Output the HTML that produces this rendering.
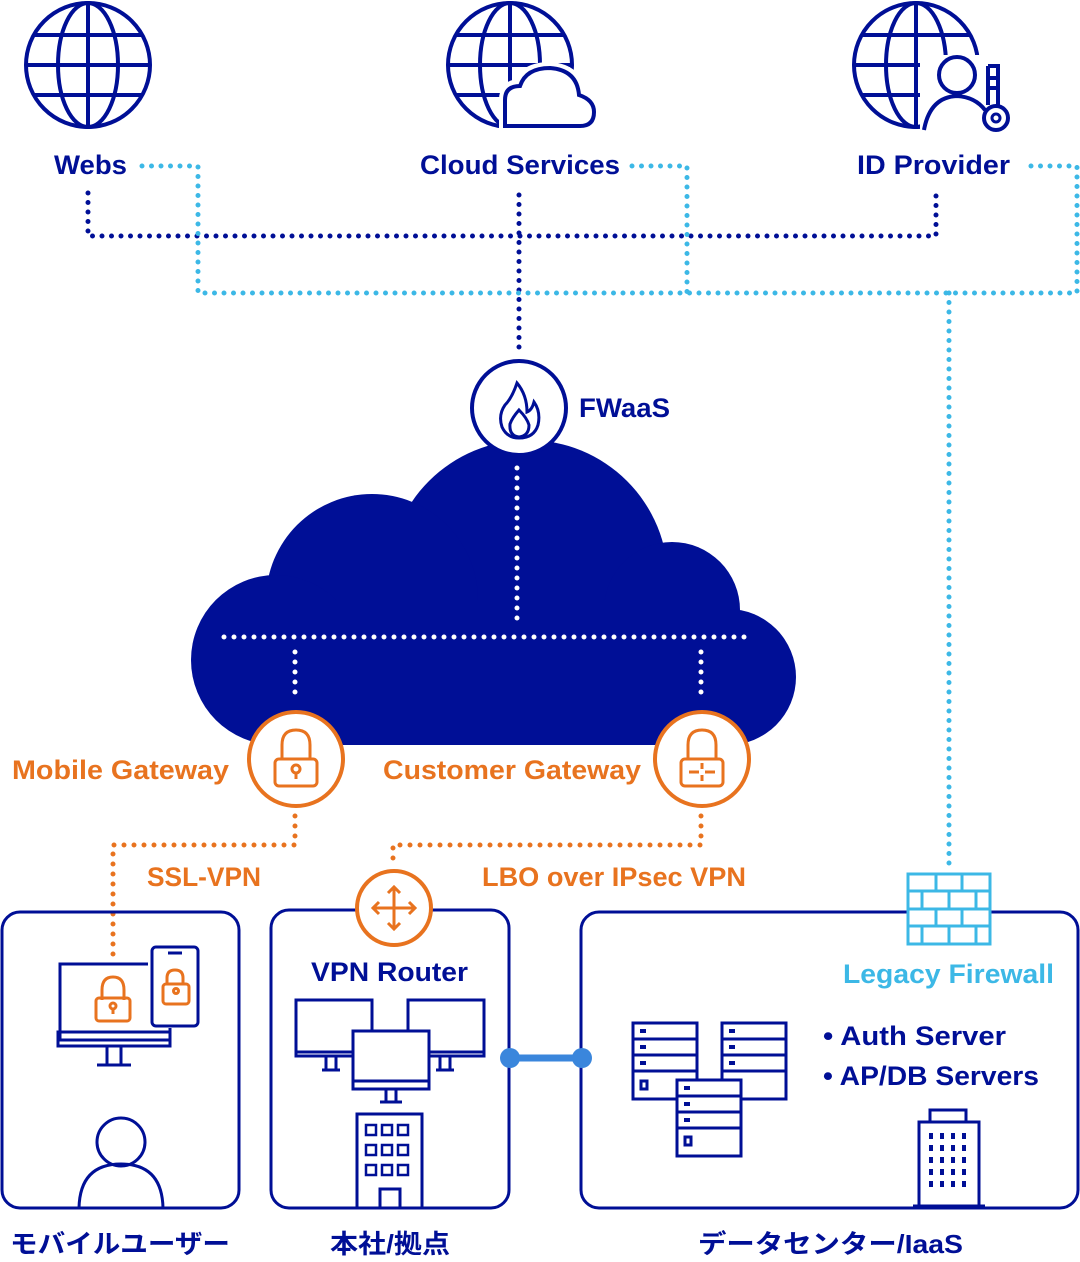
<!DOCTYPE html>
<html><head><meta charset="utf-8"><style>
html,body{margin:0;padding:0;background:#fff}
svg{display:block}
text{font-family:"Liberation Sans","Noto Sans CJK JP",sans-serif;font-weight:bold}
</style></head><body>
<svg width="1080" height="1262" viewBox="0 0 1080 1262" xmlns="http://www.w3.org/2000/svg">
<defs>
<g id="globe" fill="none" stroke="#000f96" stroke-width="4">
<circle cx="0" cy="0" r="62"/>
<ellipse cx="0" cy="0" rx="30" ry="62"/>
<line x1="0" y1="-62" x2="0" y2="62"/>
<line x1="-55" y1="-30" x2="55" y2="-30"/>
<line x1="-62" y1="0" x2="62" y2="0"/>
<line x1="-55" y1="30" x2="55" y2="30"/>
</g>
</defs>
<!-- globes -->
<use href="#globe" x="88" y="65"/>
<g>
<use href="#globe" x="510" y="65"/>
<path d="M505 128 L505 100 Q505 85 520 85 Q525 68 550 68 Q578 70 580 95 Q595 100 595 112 Q595 128 580 128 Z" fill="#fff" stroke="#fff" stroke-width="12"/>
<path d="M505 126 L505 100 Q505 86 520 86 Q526 68 550 68 Q577 70 579 95 Q594 100 594 112 Q594 126 580 126 Z" fill="#fff" stroke="#000f96" stroke-width="4"/>
</g>
<g>
<use href="#globe" x="916" y="65"/>
<rect x="920" y="55" width="90" height="80" fill="#fff"/>
<circle cx="957" cy="75" r="18" fill="#fff" stroke="#000f96" stroke-width="4"/>
<path d="M924 130 Q930 97 957 96 Q975 97 985 110" fill="none" stroke="#000f96" stroke-width="4"/>
<path d="M988 66 L998 66 L998 105" fill="none" stroke="#000f96" stroke-width="4"/>
<path d="M988 66 L988 105 M988 78 L996 78 M988 88 L996 88" fill="none" stroke="#000f96" stroke-width="4"/>
<circle cx="996" cy="118" r="12" fill="#fff" stroke="#000f96" stroke-width="4"/>
<circle cx="996" cy="118" r="4" fill="none" stroke="#000f96" stroke-width="3"/>
</g>
<!-- top labels -->
<text x="54" y="174" font-size="27" fill="#000f96" textLength="73" lengthAdjust="spacingAndGlyphs">Webs</text>
<text x="420" y="174" font-size="27" fill="#000f96" textLength="200" lengthAdjust="spacingAndGlyphs">Cloud Services</text>
<text x="857" y="174" font-size="27" fill="#000f96" textLength="153" lengthAdjust="spacingAndGlyphs">ID Provider</text>
<!-- dotted lines -->
<g fill="none" stroke-linecap="round" stroke-width="5" stroke-dasharray="0 9.5">
<path d="M88 193 V236 H936 V193" stroke="#000f96"/>
<path d="M519 195 V352" stroke="#000f96"/>
<path d="M142 166 H198 V293 H1077 V166 H1022" stroke="#3cb8e6"/>
<path d="M632 166 H687 V293" stroke="#3cb8e6"/>
<path d="M949 293 V870" stroke="#3cb8e6"/>
</g>
<!-- cloud -->
<g fill="#000f96">
<circle cx="528" cy="580" r="140"/>
<circle cx="372" cy="600" r="106"/>
<circle cx="276" cy="660" r="85"/>
<circle cx="672" cy="610" r="68"/>
<circle cx="728" cy="677" r="68"/>
<rect x="276" y="600" width="452" height="145"/>
</g>
<g fill="none" stroke="#fff" stroke-linecap="round" stroke-width="5" stroke-dasharray="0 10">
<path d="M517 468 V628"/>
<path d="M224 637 H746"/>
<path d="M295 652 V695"/>
<path d="M701 652 V695"/>
</g>
<!-- FWaaS -->
<circle cx="519" cy="408" r="47" fill="#fff" stroke="#000f96" stroke-width="4"/>
<path d="M517 383 Q512 398 505 405 Q498 415 502 427 Q507 438 519 438 Q534 438 538 425 Q541 412 534 402 Q532 410 527 412 Q527 395 517 383 Z" fill="none" stroke="#000f96" stroke-width="3"/>
<path d="M519 410 Q512 418 510 424 Q509 436 519 437 Q529 436 529 425 Q527 418 519 410 Z" fill="none" stroke="#000f96" stroke-width="3"/>
<text x="579" y="417" font-size="27" fill="#000f96" textLength="91" lengthAdjust="spacingAndGlyphs">FWaaS</text>
<!-- gateways -->
<g fill="#fff" stroke="#e8731f" stroke-width="4">
<circle cx="296" cy="759" r="47"/>
<circle cx="702" cy="759" r="47"/>
</g>
<g fill="none" stroke="#e8731f" stroke-width="3">
<path d="M282 760 V745 Q282 730 296 730 Q310 730 310 745 V760"/>
<rect x="275" y="759" width="42" height="27" rx="4"/>
<circle cx="296" cy="769" r="4"/><path d="M296 773 V779"/>
<path d="M688 760 V745 Q688 730 702 730 Q716 730 716 745 V760"/>
<rect x="681" y="759" width="42" height="27" rx="4"/>
<path d="M689 772 H699 M715 772 H705 M702 763 V769 M702 781 V775"/>
</g>
<text x="12" y="779" font-size="27" fill="#e8731f" textLength="217" lengthAdjust="spacingAndGlyphs">Mobile Gateway</text>
<text x="383" y="779" font-size="27" fill="#e8731f" textLength="258" lengthAdjust="spacingAndGlyphs">Customer Gateway</text>
<g fill="none" stroke="#e8731f" stroke-linecap="round" stroke-width="5" stroke-dasharray="0 10">
<path d="M295 816 V845 H113 V962"/>
<path d="M701 816 V845 H393 V866"/>
</g>
<text x="147" y="886" font-size="27" fill="#e8731f" textLength="114" lengthAdjust="spacingAndGlyphs">SSL-VPN</text>
<text x="482" y="886" font-size="27" fill="#e8731f" textLength="264" lengthAdjust="spacingAndGlyphs">LBO over IPsec VPN</text>
<!-- boxes -->
<g fill="none" stroke="#000f96" stroke-width="3">
<rect x="2" y="912" width="237" height="296" rx="18"/>
<rect x="271" y="910" width="238" height="298" rx="18"/>
<rect x="581" y="912" width="497" height="296" rx="18"/>
</g>
<!-- VPN router circle -->
<circle cx="394" cy="908" r="37" fill="#fff" stroke="#e8731f" stroke-width="4"/>
<g fill="none" stroke="#e8731f" stroke-width="3">
<path d="M394 887 V929 M373 908 H415 M388 893 L394 887 L400 893 M388 923 L394 929 L400 923 M379 902 L373 908 L379 914 M409 902 L415 908 L409 914"/>
</g>
<text x="311" y="981" font-size="27" fill="#000f96" textLength="157" lengthAdjust="spacingAndGlyphs">VPN Router</text>
<!-- mobile user icons -->
<g fill="none" stroke="#000f96" stroke-width="3">
<path d="M148 964 H60 V1040 H170 V1028"/>
<rect x="58" y="1032" width="112" height="14"/>
<path d="M107 1046 V1064 M121 1046 V1064 M97 1065 H131"/>
<rect x="152" y="947" width="46" height="79" rx="4"/>
<path d="M168 953 H182"/>
<circle cx="121" cy="1142" r="24"/>
<path d="M79 1208 Q80 1164 121 1164 Q162 1164 163 1208"/>
</g>
<g fill="none" stroke="#e8731f" stroke-width="3">
<path d="M102 1000 V990 Q102 977 113 977 Q124 977 124 990 V1000"/>
<rect x="96" y="998" width="34" height="23" rx="3"/>
<circle cx="113" cy="1006" r="3"/><path d="M113 1009 V1014"/>
<path d="M167 984 V978 Q167 970 175 970 Q183 970 183 978 V984"/>
<rect x="163" y="984" width="26" height="20" rx="3"/>
<circle cx="176" cy="991" r="2.5"/>
</g>
<!-- HQ icons -->
<g fill="none" stroke="#000f96" stroke-width="3">
<path d="M352 1052 H296 V1000 H372 V1030"/>
<path d="M296 1052 V1056 H352"/><path d="M326 1057 V1070 M336 1057 V1070 M322 1070 H340"/>
<path d="M408 1030 V1000 H484 V1052 H430"/><path d="M430 1056 H484 V1052"/>
<path d="M440 1057 V1070 M450 1057 V1070 M436 1070 H454"/>
<rect x="353" y="1031" width="76" height="58"/>
<path d="M353 1081 H429"/><path d="M386 1090 V1102 M396 1090 V1102 M380 1102 H402"/>
<rect x="357" y="1114" width="65" height="94"/>
<path d="M380 1208 V1189 H400 V1208"/>
</g>
<g fill="none" stroke="#000f96" stroke-width="2.5">
<rect x="366" y="1125" width="10" height="10"/><rect x="382" y="1125" width="10" height="10"/><rect x="398" y="1125" width="10" height="10"/>
<rect x="366" y="1145" width="10" height="10"/><rect x="382" y="1145" width="10" height="10"/><rect x="398" y="1145" width="10" height="10"/>
<rect x="366" y="1165" width="10" height="10"/><rect x="382" y="1165" width="10" height="10"/><rect x="398" y="1165" width="10" height="10"/>
</g>
<!-- connector -->
<line x1="510" y1="1058" x2="582" y2="1058" stroke="#3a86dc" stroke-width="7"/>
<circle cx="510" cy="1058" r="10" fill="#3a86dc"/>
<circle cx="582" cy="1058" r="10" fill="#3a86dc"/>
<!-- firewall -->
<g fill="#fff" stroke="#3cb8e6" stroke-width="3">
<rect x="908" y="874" width="82" height="70"/>
<path d="M908 891 H990 M908 909 H990 M908 926 H990 M936 874 V891 M962 874 V891 M922 891 V909 M949 891 V909 M976 891 V909 M936 909 V926 M962 909 V926 M922 926 V944 M949 926 V944 M976 926 V944"/>
</g>
<text x="843" y="983" font-size="27" fill="#3cb8e6" textLength="211" lengthAdjust="spacingAndGlyphs">Legacy Firewall</text>
<text x="823" y="1045" font-size="27" fill="#000f96" textLength="183" lengthAdjust="spacingAndGlyphs">• Auth Server</text>
<text x="823" y="1085" font-size="27" fill="#000f96" textLength="216" lengthAdjust="spacingAndGlyphs">• AP/DB Servers</text>
<!-- servers -->
<g fill="#fff" stroke="#000f96" stroke-width="3">
<rect x="633" y="1023" width="64" height="76"/>
<rect x="722" y="1023" width="64" height="76"/>
<path d="M633 1039 H697 M633 1055 H697 M633 1071 H697 M722 1039 H786 M722 1055 H786 M722 1071 H786"/>
<rect x="677" y="1080" width="64" height="76"/>
<path d="M677 1096 H741 M677 1112 H741 M677 1128 H741"/>
<rect x="641" y="1081" width="6" height="8"/><rect x="685" y="1137" width="6" height="8"/>
</g>
<g fill="#000f96">
<rect x="640" y="1029" width="6" height="4"/><rect x="640" y="1045" width="6" height="4"/><rect x="640" y="1061" width="6" height="4"/>
<rect x="729" y="1029" width="6" height="4"/><rect x="729" y="1045" width="6" height="4"/><rect x="729" y="1061" width="6" height="4"/>
<rect x="684" y="1086" width="6" height="4"/><rect x="684" y="1102" width="6" height="4"/><rect x="684" y="1118" width="6" height="4"/>
</g>
<!-- DC building -->
<g fill="none" stroke="#000f96" stroke-width="3">
<rect x="930" y="1110" width="36" height="12"/>
<rect x="919" y="1122" width="60" height="84"/>
<path d="M913 1206 H985"/>
</g>
<g fill="#000f96">
<g id="dr"><rect x="929" y="1133" width="4" height="6"/><rect x="940" y="1133" width="4" height="6"/><rect x="951" y="1133" width="4" height="6"/><rect x="962" y="1133" width="4" height="6"/></g>
<use href="#dr" y="12"/><use href="#dr" y="24"/><use href="#dr" y="36"/><use href="#dr" y="48"/>
</g>
<!-- bottom labels -->
<text x="10" y="1253" font-size="26" fill="#000f96" textLength="220" lengthAdjust="spacingAndGlyphs">モバイルユーザー</text>
<text x="330" y="1253" font-size="26" fill="#000f96" textLength="120" lengthAdjust="spacingAndGlyphs">本社/拠点</text>
<text x="698" y="1253" font-size="26" fill="#000f96" textLength="265" lengthAdjust="spacingAndGlyphs">データセンター/IaaS</text>
</svg>
</body></html>
